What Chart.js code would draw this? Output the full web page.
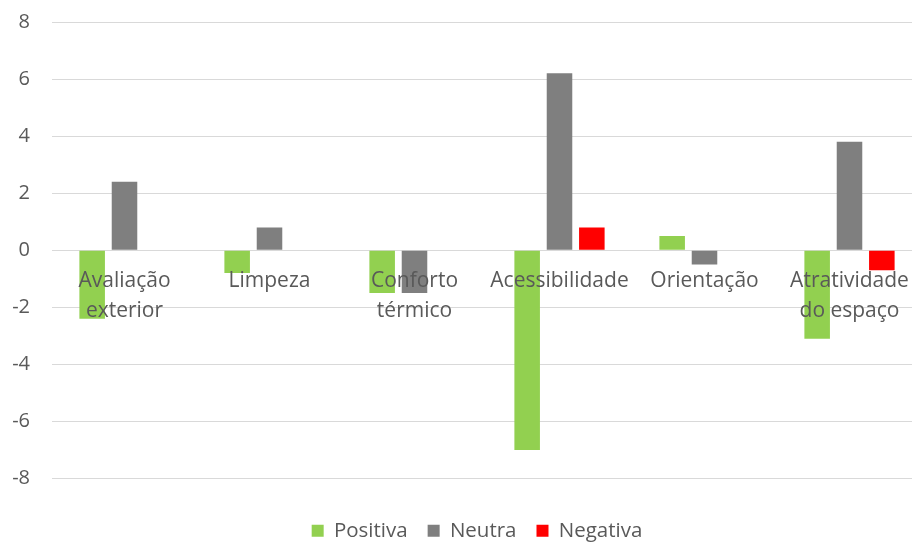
<!DOCTYPE html>
<html><head><meta charset="utf-8">
<script src="https://cdn.jsdelivr.net/npm/chart.js@4.4.1/dist/chart.umd.min.js"></script>
<style>
html,body{margin:0;padding:0;overflow:hidden;background:#fff;width:912px;height:543px}
#wrap{position:absolute;left:0;top:0;width:954px;height:543px}
</style></head><body>
<div id="wrap"><canvas id="c" width="954" height="543"></canvas></div>
<script>
const categories = [['Avaliação','exterior'], 'Limpeza', ['Conforto','térmico'], 'Acessibilidade', 'Orientação', ['Atratividade','do espaço']];
const positiva = [-2.4, -0.8, -1.5, -7.0, 0.5, -3.1];
const neutra   = [2.4, 0.8, -1.5, 6.2, -0.5, 3.8];
const negativa = [0, 0, 0, 0.8, 0, -0.7];
const seriesNames = ['Positiva', 'Neutra', 'Negativa'];
const yTicks = [-8, -6, -4, -2, 0, 2, 4, 6, 8];

const FONT = 'Open Sans';
const txt = '#595959';

// shift the legend so it is centred on the full (cropped) chart width
const legendShift = {
  id: 'legendShift',
  afterLayout(chart) {
    const lg = chart.legend;
    if (lg) { lg.left += 16; lg.right += 16; }
  }
};

new Chart(document.getElementById('c'), {
  type: 'bar',
  data: {
    labels: categories,
    datasets: [
      {label: seriesNames[0], data: positiva, backgroundColor: '#92d050'},
      {label: seriesNames[1], data: neutra, backgroundColor: '#7f7f7f'},
      {label: seriesNames[2], data: negativa, backgroundColor: '#ff0000'}
    ]
  },
  plugins: [legendShift],
  options: {
    responsive: false,
    animation: false,
    categoryPercentage: 0.669,
    barPercentage: 0.79,
    layout: {padding: {top: 22, right: 32, bottom: -8, left: 0}},
    plugins: {
      tooltip: {enabled: false},
      legend: {
        position: 'bottom',
        title: {display: true, text: '', font: {size: 10, lineHeight: 1.2}, padding: {top: 10, bottom: 0}},
        labels: {boxWidth: 12, boxHeight: 12, padding: 20, color: txt, font: {family: FONT, size: 20.5}}
      }
    },
    scales: {
      x: {
        position: {y: 0},
        grid: {display: false, drawTicks: false},
        border: {display: false},
        ticks: {z: 1, color: txt, font: {family: FONT, size: 21, lineHeight: 1.42}, padding: 16, maxRotation: 0, autoSkip: false}
      },
      y: {
        min: -8, max: 8,
        afterBuildTicks: s => { s.ticks = yTicks.map(v => ({value: v})); },
        afterFit: s => { s.width = 52; s.paddingTop = 0; s.paddingBottom = 0; },
        grid: {color: '#d9d9d9', lineWidth: 1, drawTicks: false},
        border: {display: false},
        ticks: {color: txt, font: {family: FONT, size: 20}, padding: 22}
      }
    }
  }
});
</script></body></html>
